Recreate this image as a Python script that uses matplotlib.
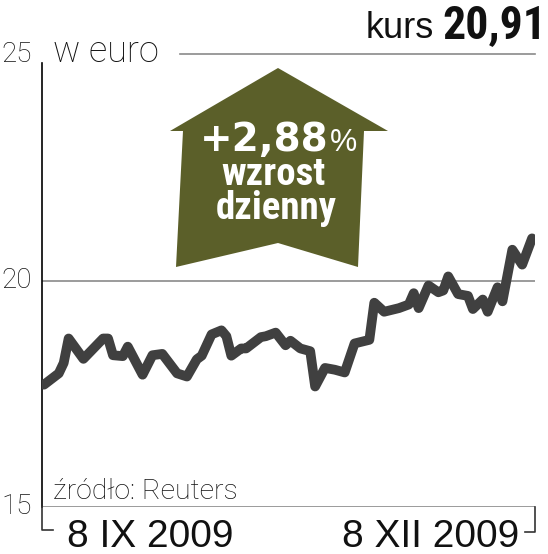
import matplotlib
matplotlib.use('Agg')
import matplotlib.pyplot as plt
from matplotlib import font_manager as fm
from matplotlib.patches import Polygon
from matplotlib.lines import Line2D

# ---- data ----
days = [0, 3, 4, 5, 8, 12, 13, 14, 16, 17, 20, 22, 24, 27, 29, 31, 32, 34, 36, 37,
        38, 40, 41, 44, 45, 47, 49, 50, 52, 54, 55, 57, 59, 61, 63, 66, 67, 69, 72, 74,
        75, 76, 78, 80, 81, 82, 84, 86, 87, 89, 90, 92, 93, 95, 97, 99]
prices = [17.70, 17.95, 18.18, 18.72, 18.27, 18.72, 18.72, 18.35, 18.33, 18.54,
          17.92, 18.35, 18.38, 17.95, 17.88, 18.26, 18.34, 18.81, 18.90, 18.77,
          18.34, 18.50, 18.50, 18.75, 18.77, 18.85, 18.57, 18.67, 18.50, 18.44,
          17.66, 18.07, 18.03, 17.97, 18.61, 18.69, 19.51, 19.31, 19.39, 19.47,
          19.72, 19.39, 19.89, 19.74, 19.78, 20.09, 19.70, 19.66, 19.37, 19.58,
          19.31, 19.85, 19.54, 20.68, 20.35, 20.93]
y_ticks = [15, 20, 25]
y_tick_labels = ["15", "20", "25"]
date_labels = ["8 IX 2009", "8 XII 2009"]
unit_label = "w euro"
price_label = "20,91"
change_label = "+2,88"
change_words = ["wzrost", "dzienny"]
source_label = "źródło: Reuters"

W, H = 548, 554
avail = {f.name for f in fm.fontManager.ttflist}
def pick(*names):
    for n in names:
        if n in avail:
            return n
    return 'DejaVu Sans'

narrow = pick('Liberation Sans Narrow', 'Roboto Condensed', 'Liberation Sans')
light = pick('Roboto', 'Lato', 'Open Sans', 'Liberation Sans')
regular = pick('Liberation Sans', 'Roboto')

fig = plt.figure(figsize=(W / 100, H / 100), dpi=100)
fig.patch.set_facecolor('white')

def fx(x):
    return x / W

def fy(y):
    return 1 - y / H

# axes: left 42px, right 535px; 15 at 507px, 25 at 54px
ax = fig.add_axes([fx(42), fy(507), (535 - 42) / W, (507 - 54) / H])
ax.set_ylim(15, 25)
ax.set_xlim(-0.4, 99.6)
for s in ax.spines.values():
    s.set_visible(False)
ax.set_xticks([])
ax.set_yticks([])
ax.patch.set_alpha(0)

grey = '#8a8a8a'
ax.axhline(20, color=grey, lw=1.2, zorder=1)
ax.axhline(15, color=grey, lw=1.2, zorder=1)
ax.axhline(25, xmin=(180 - 42) / 493, xmax=1, color=grey, lw=1.2, zorder=1, clip_on=False)
ax.plot([0, 0], [15, 24.8], transform=ax.get_yaxis_transform(), color='black', lw=1.2,
        clip_on=False, zorder=2)

# brackets below axis
for xs, ys in [([42, 42, 53], [507, 530, 530]), ([535, 535, 525], [507, 532, 532])]:
    fig.add_artist(Line2D([fx(v) for v in xs], [fy(v) for v in ys], color='#333333', lw=1.2))

# arrow
arrow_pts = [(278, 68), (388, 131), (364, 131), (358, 267), (278, 243), (176, 267),
             (183, 131), (170, 131)]
fig.add_artist(Polygon([(fx(x), fy(y)) for x, y in arrow_pts], closed=True,
                       facecolor='#5b5f29', edgecolor='none', transform=fig.transFigure))

# price line
ax.plot(days, prices, color='#404040', lw=7, solid_joinstyle='round',
        solid_capstyle='round', zorder=3)

# y tick labels
for v, lab in zip(y_ticks, y_tick_labels):
    ypx = 507 - (v - 15) * 45.3
    fig.text(fx(32), fy(ypx), lab, ha='right', va='center', fontsize=20,
             family=light, weight='light', color='#111111')

fig.text(fx(53), fy(62), unit_label, ha='left', va='baseline', fontsize=26,
         family=light, weight='light', color='#111111')
fig.text(fx(434), fy(38), "kurs", ha='right', va='baseline', fontsize=26,
         family=regular, color='#111111')
fig.text(fx(546), fy(38), price_label, ha='right', va='baseline', fontsize=33,
         family=narrow, weight='bold', color='#111111')

# arrow texts
fig.text(fx(329), fy(151), change_label, ha='right', va='baseline', fontsize=28,
         family='DejaVu Sans', weight='bold', color='white')
fig.text(fx(330), fy(151), "%", ha='left', va='baseline', fontsize=22,
         family=regular, color='white')
fig.text(fx(273), fy(185), change_words[0], ha='center', va='baseline', fontsize=28,
         family=narrow, weight='bold', color='white')
fig.text(fx(276), fy(219), change_words[1], ha='center', va='baseline', fontsize=28,
         family=narrow, weight='bold', color='white')

fig.text(fx(53), fy(499), source_label, ha='left', va='baseline', fontsize=20.5,
         family=light, weight='light', color='#111111')

fig.text(fx(67), fy(547), date_labels[0], ha='left', va='baseline', fontsize=28,
         family=regular, color='#111111')
fig.text(fx(519), fy(547), date_labels[1], ha='right', va='baseline', fontsize=28,
         family=regular, color='#111111')

fig.savefig('out.png', dpi=100, facecolor='white')
